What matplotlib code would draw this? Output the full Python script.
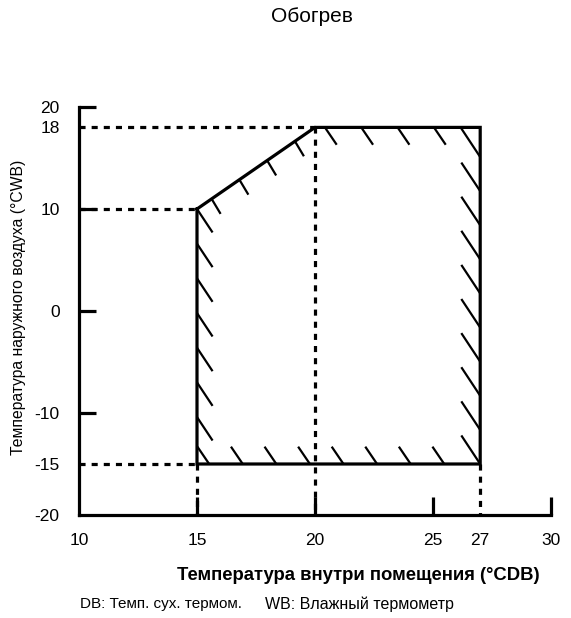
import numpy as np
import matplotlib
matplotlib.use("Agg")
import matplotlib.pyplot as plt
from matplotlib.patches import Polygon
from matplotlib.collections import LineCollection

plt.rcParams["font.family"] = ["Liberation Sans", "DejaVu Sans"]

# рабочая зона (обогрев)
zone_x = [15, 20, 27, 27, 15]
zone_y = [10, 18, 18, -15, -15]

x_ticks = [10, 15, 20, 25, 27, 30]
y_ticks = [20, 18, 10, 0, -10, -15, -20]
x_solid = [15, 20, 25, 30]
y_solid = [20, 10, 0, -10]

title = "Обогрев"
xlabel = "Температура внутри помещения (°CDB)"
ylabel = "Температура наружного воздуха (°CWB)"
note_db = "DB: Темп. сух. термом."
note_wb = "WB: Влажный термометр"

W, H = 571, 618
fig = plt.figure(figsize=(W / 100, H / 100), dpi=100)
ax = fig.add_axes([79 / W, 1 - 515 / H, (551 - 79) / W, (515 - 107) / H])
ax.set_xlim(10, 30)
ax.set_ylim(-20, 20)

for s in ["top", "right"]:
    ax.spines[s].set_visible(False)
for s in ["left", "bottom"]:
    ax.spines[s].set_linewidth(2.3)

ax.set_xticks(x_ticks)
ax.set_yticks(y_ticks)
ax.set_xticklabels([str(v) for v in x_ticks], fontsize=12.5)
ax.set_yticklabels([str(v) for v in y_ticks], fontsize=12.5)
ax.tick_params(axis="x", direction="in", length=13, width=2.3, pad=13)
ax.tick_params(axis="y", direction="in", length=12.5, width=2.3, pad=14)
for t, v in zip(ax.xaxis.get_major_ticks(), x_ticks):
    t.tick1line.set_visible(v in x_solid)
for t, v in zip(ax.yaxis.get_major_ticks(), y_ticks):
    t.tick1line.set_visible(v in y_solid)

# пунктирные линии-выноски
dot = dict(color="black", lw=2.3, ls=(0, (1.9, 1.9)), dash_capstyle="butt")
ax.plot([10, 20], [18, 18], **dot)
ax.plot([10, 15], [10, 10], **dot)
ax.plot([10, 15], [-15, -15], **dot)
ax.plot([15, 15], [-15, -20], **dot)
ax.plot([20, 20], [18, -20], **dot)
ax.plot([27, 27], [-15, -20], **dot)

# контур зоны
ax.plot(zone_x + zone_x[:1], zone_y + zone_y[:1], color="black", lw=2.3,
        solid_joinstyle="miter", solid_capstyle="projecting")

poly = Polygon(np.column_stack([zone_x, zone_y]), closed=True, fill=False, lw=0)
ax.add_patch(poly)

# штриховка внутри зоны
segs = []


def hatch(p0, p1, f0, f1, n, vec, from_edge=True):
    p0, p1, vec = np.array(p0, float), np.array(p1, float), np.array(vec, float)
    for f in np.linspace(f0, f1, n):
        p = p0 + (p1 - p0) * f
        if from_edge:
            segs.append([p, p + vec])
        else:
            segs.append([p - vec, p])


hatch((15, 10), (15, -15), 0.0, 0.816, 7, (0.66, -2.3))
hatch((15, 10), (20, 18), 0.124, 0.83, 4, (0.38, -1.47))
hatch((20, 18), (27, 18), 0.06, 0.72, 4, (0.5, -1.7))
hatch((15, -15), (27, -15), 0.043, 0.873, 8, (0.5, -1.7), from_edge=False)
hatch((27, -15), (27, 18), 0.0, 0.912, 10, (0.8, -2.8), from_edge=False)

lc = LineCollection(segs, colors="black", linewidths=1.6)
ax.add_collection(lc)
lc.set_clip_path(poly)

fig.text(312 / W, 1 - 16 / H, title, ha="center", va="center", fontsize=15)
fig.text(358 / W, 1 - 576 / H, xlabel, ha="center", va="center",
         fontsize=13.3, fontweight="bold")
fig.text(19 / W, 1 - 307 / H, ylabel, ha="center", va="center",
         rotation=90, fontsize=11.3)
fig.text(80 / W, 1 - 604 / H, note_db, ha="left", va="center", fontsize=11)
fig.text(265 / W, 1 - 604 / H, note_wb, ha="left", va="center", fontsize=11.5)

fig.savefig("out.png", dpi=100)
